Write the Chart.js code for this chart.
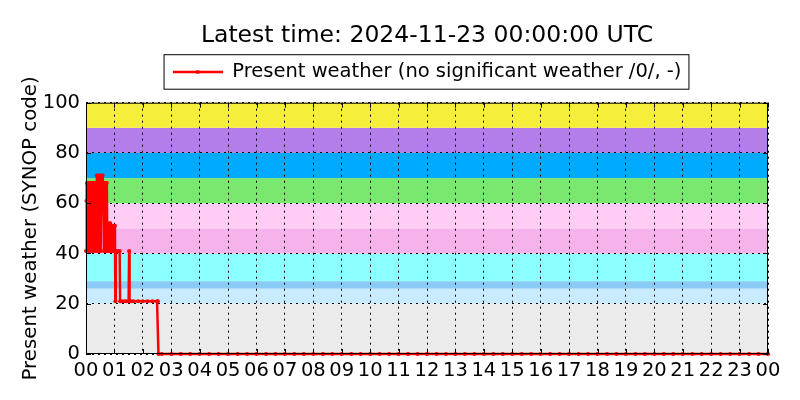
<!DOCTYPE html>
<html>
<head>
<meta charset="utf-8">
<script src="https://cdn.jsdelivr.net/npm/chart.js@4"></script>
<style>
  html, body { margin: 0; padding: 0; background: #fff; }
  #wrap { width: 800px; height: 400px; }
</style>
</head>
<body>
<div id="wrap"><canvas id="myChart" width="800" height="400"></canvas></div>
<script>
// observation times (minutes after 00 UTC) and present weather code
var obsMinutes = [0, 1, 2, 4, 5, 6, 9, 10, 11, 13, 14, 17, 18, 19, 21, 22, 23, 26, 27, 28, 30, 31, 32, 35, 36, 38, 39, 42, 43, 44, 45, 48, 49, 51, 52, 53, 55, 56, 58, 59, 61, 62, 63, 65, 68, 71, 72, 75, 80, 85, 90, 91, 92, 95, 100, 110, 120, 130, 140, 150, 152, 153,
  160, 180, 200, 220, 240, 260, 280, 300, 320, 340, 360, 380, 400, 420, 440, 460, 480, 500, 520, 540, 560, 580, 600, 620, 640, 660, 680, 700, 720, 740, 760, 780, 800, 820, 840, 860, 880, 900, 920, 940, 960, 980, 1000, 1020, 1040, 1060, 1080, 1100, 1120, 1140, 1160, 1180, 1200, 1220, 1240, 1260, 1280, 1300, 1320, 1340, 1360, 1380, 1400, 1420, 1440];
var weatherCode = [41, 61, 68, 68, 41, 68, 68, 41, 68, 41, 68, 68, 41, 68, 68, 41, 71, 71, 41, 71, 68, 41, 71, 71, 68, 41, 68, 68, 41, 68, 41, 41, 52, 52, 41, 51, 51, 41, 41, 51, 51, 21, 41, 41, 41, 41, 21, 21, 21, 21, 21, 41, 21, 21, 21, 21, 21, 21, 21, 21, 21, 0,
  0, 0, 0, 0, 0, 0, 0, 0, 0, 0, 0, 0, 0, 0, 0, 0, 0, 0, 0, 0, 0, 0, 0, 0, 0, 0, 0, 0, 0, 0, 0, 0, 0, 0, 0, 0, 0, 0, 0, 0, 0, 0, 0, 0, 0, 0, 0, 0, 0, 0, 0, 0, 0, 0, 0, 0, 0, 0, 0, 0, 0, 0, 0, 0, 0];

var hourLabels = ['00', '01', '02', '03', '04', '05', '06', '07', '08', '09', '10', '11',
  '12', '13', '14', '15', '16', '17', '18', '19', '20', '21', '22', '23', '00'];
var yTicks = [0, 20, 40, 60, 80, 100];

// SYNOP code groups shown as coloured bands
var bandLimits = [0, 20, 26, 29, 40, 50, 60, 70, 80, 90, 100];
var bandColors = ['#ebebeb', '#c8ebff', '#8ccbf5', '#8cffff', '#f5b2eb',
  '#ffccf5', '#7ae86e', '#00aaff', '#b47eea', '#f5ef3c'];

var points = [];
for (var i = 0; i < obsMinutes.length; i++) {
  points.push({ x: obsMinutes[i], y: weatherCode[i] });
}

var FONT = "'DejaVu Sans', sans-serif";

// legend sample: line with a dot
var sample = document.createElement('canvas');
sample.width = 50; sample.height = 10;
var sc = sample.getContext('2d');
sc.strokeStyle = '#ff0000'; sc.lineWidth = 2.5;
sc.beginPath(); sc.moveTo(0, 5); sc.lineTo(50, 5); sc.stroke();
sc.fillStyle = '#ff0000';
sc.beginPath(); sc.arc(25, 5, 2, 0, Math.PI * 2); sc.fill();

var bandsPlugin = {
  id: 'bands',
  beforeDraw: function(chart) {
    var c = chart.ctx, a = chart.chartArea, y = chart.scales.y;
    c.save();
    for (var i = 0; i < bandColors.length; i++) {
      var top = y.getPixelForValue(bandLimits[i + 1]);
      var bot = y.getPixelForValue(bandLimits[i]);
      c.fillStyle = bandColors[i];
      c.fillRect(a.left, top, a.right - a.left, bot - top);
    }
    c.restore();
  }
};

// frame, inward ticks and legend border
var framePlugin = {
  id: 'frame',
  afterDraw: function(chart) {
    var c = chart.ctx, a = chart.chartArea;
    var xs = chart.scales.x, ys = chart.scales.y;
    c.save();
    c.strokeStyle = '#000';
    c.lineWidth = 1;
    c.strokeRect(a.left + 0.5, a.top + 0.5, a.right - a.left - 1, a.bottom - a.top - 1);
    c.beginPath();
    for (var h = 0; h < hourLabels.length; h++) {
      var px = Math.round(xs.getPixelForValue(h * 60)) + 0.5;
      c.moveTo(px, a.bottom); c.lineTo(px, a.bottom - 5);
      c.moveTo(px, a.top); c.lineTo(px, a.top + 5);
    }
    for (var k = 0; k < yTicks.length; k++) {
      var py = Math.round(ys.getPixelForValue(yTicks[k])) + 0.5;
      c.moveTo(a.left, py); c.lineTo(a.left + 5, py);
      c.moveTo(a.right, py); c.lineTo(a.right - 5, py);
    }
    c.stroke();
    var hb = chart.legend.legendHitBoxes[0];
    if (hb) {
      c.strokeRect(hb.left - 8.5, hb.top - 7.5, hb.width + 16, hb.height + 15);
    }
    c.restore();
  }
};

var ctx = document.getElementById('myChart').getContext('2d');
var myChart = new Chart(ctx, {
  type: 'line',
  data: {
    datasets: [{
      label: 'Present weather (no significant weather /0/, -)',
      data: points,
      borderColor: '#ff0000',
      backgroundColor: '#ff0000',
      borderWidth: 2.5,
      pointRadius: 2,
      pointBorderWidth: 0,
      pointBackgroundColor: '#ff0000',
      tension: 0,
      clip: 2
    }]
  },
  options: {
    responsive: false,
    animation: false,
    layout: { padding: { left: 0, right: 32, top: 0, bottom: 0 } },
    plugins: {
      title: {
        display: true,
        fullSize: false,
        text: 'Latest time: 2024-11-23 00:00:00 UTC',
        color: '#000',
        font: { family: FONT, size: 23.5, weight: 'normal' },
        padding: { top: 22, bottom: -12 }
      },
      legend: {
        display: true,
        fullSize: false,
        labels: {
          color: '#000',
          font: { family: FONT, size: 19.5 },
          usePointStyle: true,
          pointStyle: sample,
          pointStyleWidth: 50,
          padding: 24
        }
      },
      tooltip: { enabled: false }
    },
    scales: {
      x: {
        type: 'linear',
        min: 0,
        max: 1440,
        afterFit: function(s) { s.height = 46; },
        ticks: {
          stepSize: 60,
          autoSkip: false,
          maxRotation: 0,
          color: '#000',
          font: { family: FONT, size: 19.5 },
          padding: 5,
          callback: function(v) { return hourLabels[v / 60]; }
        },
        grid: { color: '#000', lineWidth: 1, drawTicks: false },
        border: { display: false, dash: [2, 4] }
      },
      // empty top axis, only keeps a gap between legend and plot
      gap: {
        type: 'linear',
        position: 'top',
        min: 0,
        max: 1,
        afterFit: function(s) { s.height = 11; },
        ticks: { display: false },
        grid: { display: false },
        border: { display: false }
      },
      y: {
        min: 0,
        max: 100,
        afterFit: function(s) { s.width = 86; },
        ticks: {
          stepSize: 20,
          color: '#000',
          font: { family: FONT, size: 19.5 },
          padding: 6
        },
        title: {
          display: true,
          text: 'Present weather (SYNOP code)',
          color: '#000',
          font: { family: FONT, size: 19.8 },
          padding: { top: 19, bottom: 0 }
        },
        grid: { color: '#000', lineWidth: 1, drawTicks: false },
        border: { display: false, dash: [2, 4] }
      }
    }
  },
  plugins: [bandsPlugin, framePlugin]
});
</script>
</body>
</html>
